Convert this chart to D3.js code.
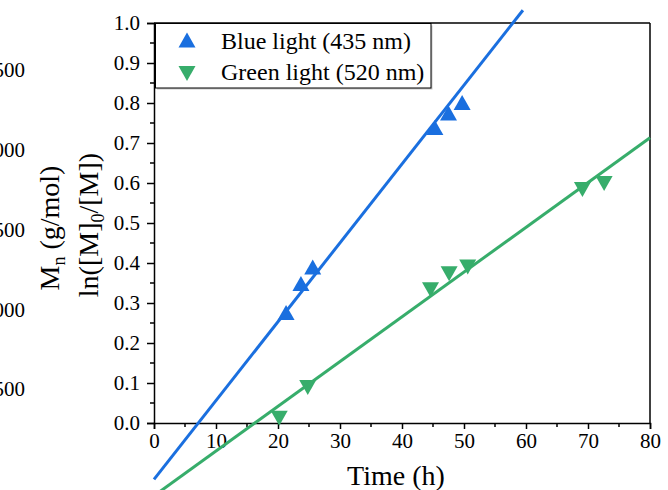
<!DOCTYPE html>
<html>
<head>
<meta charset="utf-8">
<script src="https://cdn.jsdelivr.net/npm/d3@7"></script>
<style>
  html, body { margin: 0; padding: 0; background: #fff; }
  svg { display: block; }
  text { font-family: "Liberation Serif", "Times New Roman", serif; fill: #000; }
</style>
</head>
<body>
<svg id="chart" width="668" height="490"></svg>
<script>
// ---- data ----
const blueTime = [21.3, 23.7, 25.6, 45.3, 47.5, 49.7];
const blueLn   = [0.276, 0.349, 0.390, 0.739, 0.775, 0.801];
const greenTime = [20.2, 24.8, 44.6, 47.6, 50.6, 69.1, 72.6];
const greenLn   = [0.012, 0.089, 0.333, 0.373, 0.390, 0.584, 0.599];
// linear fit lines (endpoints)
const blueFitTime = [0, 59.5];
const blueFitLn   = [-0.141, 1.032];
const greenFitTime = [0, 80];
const greenFitLn   = [-0.182, 0.713];
const xTicks = [0, 10, 20, 30, 40, 50, 60, 70, 80];
const yTicks = [0.0, 0.1, 0.2, 0.3, 0.4, 0.5, 0.6, 0.7, 0.8, 0.9, 1.0];
// partially visible tick labels of a second (Mn) axis at the far left edge
const mnTickLabels = ["500", "000", "500", "000", "500"];
const mnTickValues = [3500, 3000, 2500, 2000, 1500];
const seriesNames = ["Blue light (435 nm)", "Green light (520 nm)"];

const BLUE = "#1A6FDF", GREEN = "#37AD6B";

const svg = d3.select("#chart");
const L = 154, R = 650, T = 23, B = 423;

const x = d3.scaleLinear().domain([0, 80]).range([L, R]);
const y = d3.scaleLinear().domain([0, 1]).range([B, T]);
const yMn = d3.scaleLinear().domain([1500, 3500]).range([389, 70]);

// Mn tick labels (cut at left edge as in the reference)
svg.append("g").selectAll("text").data(mnTickValues).join("text")
  .attr("x", 25).attr("y", d => yMn(d)).attr("dy", "0.35em")
  .attr("text-anchor", "end").attr("font-size", 21)
  .text((d, i) => mnTickLabels[i]);

// frame (top and right)
svg.append("line").attr("x1", L).attr("x2", R).attr("y1", T).attr("y2", T)
  .attr("stroke", "#000").attr("stroke-width", 1.5);
svg.append("line").attr("x1", R).attr("x2", R).attr("y1", T).attr("y2", B)
  .attr("stroke", "#000").attr("stroke-width", 1.5);

// x axis
const xAxis = d3.axisBottom(x).tickValues(xTicks).tickSize(6).tickPadding(4).tickFormat(d3.format("d"));
const gx = svg.append("g").attr("transform", `translate(0,${B})`).call(xAxis);
gx.attr("font-family", null);
gx.select(".domain").attr("stroke-width", 1.5);
gx.selectAll(".tick line").attr("stroke-width", 1.5);
gx.selectAll(".tick text").attr("font-size", 21);
const xMinor = d3.range(5, 80, 10);
svg.append("g").selectAll("line").data(xMinor).join("line")
  .attr("x1", d => x(d)).attr("x2", d => x(d)).attr("y1", B).attr("y2", B + 4)
  .attr("stroke", "#000").attr("stroke-width", 1.5);

// y axis
const yAxis = d3.axisLeft(y).tickValues(yTicks).tickSize(7).tickPadding(7).tickFormat(d3.format(".1f"));
const gy = svg.append("g").attr("transform", `translate(${L},0)`).call(yAxis);
gy.attr("font-family", null);
gy.select(".domain").attr("stroke-width", 1.5);
gy.selectAll(".tick line").attr("stroke-width", 1.5);
gy.selectAll(".tick text").attr("font-size", 21);
const yMinor = d3.range(0.05, 1.0, 0.1);
svg.append("g").selectAll("line").data(yMinor).join("line")
  .attr("x1", L - 4).attr("x2", L).attr("y1", d => y(d)).attr("y2", d => y(d))
  .attr("stroke", "#000").attr("stroke-width", 1.5);

// axis titles
svg.append("text").attr("x", 396).attr("y", 485).attr("text-anchor", "middle")
  .attr("font-size", 28).text("Time (h)");

const mnT = svg.append("text").attr("transform", "translate(59,228) rotate(-90)")
  .attr("text-anchor", "middle").attr("font-size", 28);
mnT.append("tspan").text("M");
mnT.append("tspan").attr("font-size", 18).attr("dy", 6).text("n");
mnT.append("tspan").attr("dy", -6).text(" (g/mol)");

const lnT = svg.append("text").attr("transform", "translate(98,225) rotate(-90)")
  .attr("text-anchor", "middle").attr("font-size", 28);
lnT.append("tspan").text("ln([M]");
lnT.append("tspan").attr("font-size", 18).attr("dy", 6).text("0");
lnT.append("tspan").attr("dy", -6).text("/[M])");

// triangle paths
const upTri = "M0,-7.5L8.5,7.5L-8.5,7.5Z";
const downTri = "M0,7.5L8.5,-7.5L-8.5,-7.5Z";

// markers
svg.append("g").selectAll("path").data(blueTime).join("path")
  .attr("d", upTri).attr("fill", BLUE)
  .attr("transform", (d, i) => `translate(${x(d)},${y(blueLn[i])})`);
svg.append("g").selectAll("path").data(greenTime).join("path")
  .attr("d", downTri).attr("fill", GREEN)
  .attr("transform", (d, i) => `translate(${x(d)},${y(greenLn[i])})`);

// fit lines
const line = d3.line().x(d => x(d[0])).y(d => y(d[1]));
svg.append("path").datum(blueFitTime.map((t, i) => [t, blueFitLn[i]]))
  .attr("d", line).attr("stroke", BLUE).attr("stroke-width", 3).attr("fill", "none");
svg.append("path").datum(greenFitTime.map((t, i) => [t, greenFitLn[i]]))
  .attr("d", line).attr("stroke", GREEN).attr("stroke-width", 3).attr("fill", "none");

// legend
const lg = svg.append("g");
lg.append("rect").attr("x", 157).attr("y", 25.5).attr("width", 275.5).attr("height", 64)
  .attr("fill", "#c8c8c8");
lg.append("rect").attr("x", 155.5).attr("y", 23.5).attr("width", 275.5).attr("height", 64.5)
  .attr("fill", "#fff").attr("stroke", "#000").attr("stroke-width", 1);
lg.append("path").attr("d", upTri).attr("fill", BLUE).attr("transform", "translate(187,40)");
lg.append("path").attr("d", downTri).attr("fill", GREEN).attr("transform", "translate(187,73.5)");
lg.append("text").attr("x", 221).attr("y", 49).attr("font-size", 24).text(seriesNames[0]);
lg.append("text").attr("x", 221).attr("y", 80).attr("font-size", 24).text(seriesNames[1]);
</script>
</body>
</html>
